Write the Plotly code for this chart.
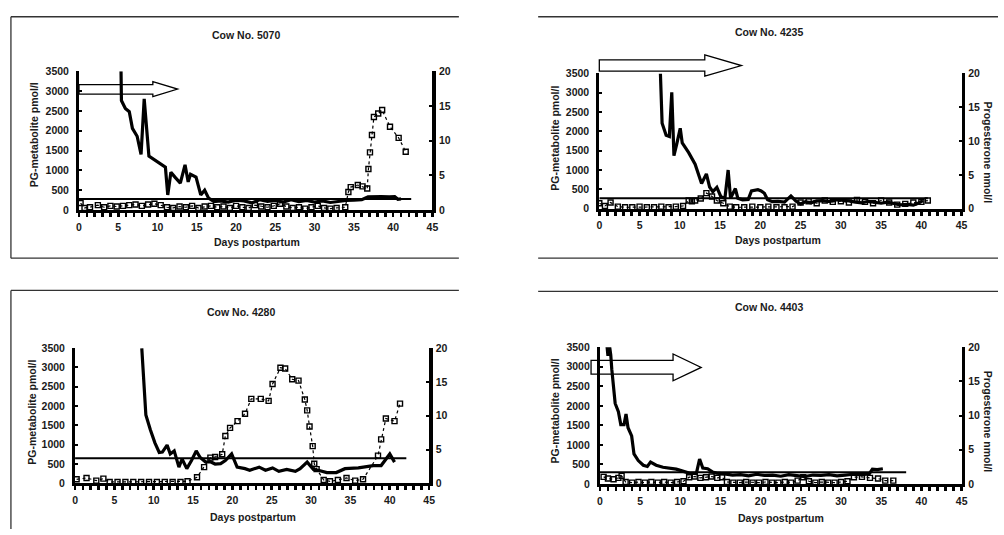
import plotly.graph_objects as go

W, H = 1004, 535

# ---------------- text ----------------
TITLES = ["Cow No. 5070", "Cow No. 4235", "Cow No. 4280", "Cow No. 4403"]
X_TITLE = "Days postpartum"
Y_LEFT_TITLE = "PG-metabolite pmol/l"
Y_RIGHT_TITLE = "Progesterone nmol/l"
X_TICKS = [0, 5, 10, 15, 20, 25, 30, 35, 40, 45]
Y_LEFT_TICKS = [0, 500, 1000, 1500, 2000, 2500, 3000, 3500]
Y_RIGHT_TICKS = [0, 5, 10, 15, 20]

# ---------------- Cow 5070 ----------------
pg1_day = [5.35, 5.4, 5.9, 6.4, 6.8, 7.4, 7.9, 8.3, 8.9, 9.5, 10.2, 11.0, 11.3, 11.7, 12.3,
           12.9, 13.5, 13.9, 14.2, 14.9, 15.5, 16.0, 16.5, 17.2, 18, 19, 20, 21, 22, 23, 24,
           25, 26, 27, 28, 29, 30, 31, 32, 33, 34, 35, 36, 36.8, 37.5, 38.5, 39.5, 40.2, 40.6, 41.0]
pg1_val = [3500, 2760, 2560, 2480, 2060, 1860, 1400, 2800, 1360, 1280, 1180, 1080, 380, 950, 810,
           680, 1140, 710, 900, 830, 380, 500, 300, 210, 230, 200, 250, 230, 180, 260, 220,
           240, 200, 260, 210, 240, 200, 230, 190, 220, 240, 250, 260, 330, 340, 340, 330, 340, 270, 280]
pr1_day = [0.2, 0.7, 1.4, 2.4, 3.2, 4.0, 4.8, 5.6, 6.4, 7.2, 8.0, 8.8, 9.6, 10.4, 11.2, 12.0,
           12.8, 13.6, 14.4, 15.2, 16.0, 16.8, 17.6, 18.4, 19.2, 20.0, 20.8, 21.6, 22.4, 23.2,
           24.0, 24.8, 25.6, 26.4, 27.2, 28.0, 28.8, 29.6, 30.4, 31.2, 32.0, 32.8, 33.9, 34.3,
           34.6, 35.5, 36.1, 36.7, 36.85, 37.05, 37.3, 37.55, 38.1, 38.6, 39.6, 40.7, 41.6]
pr1_val = [1.0, 0.3, 0.4, 0.7, 0.4, 0.6, 0.5, 0.6, 0.7, 0.8, 0.6, 0.8, 0.9, 0.7, 0.4, 0.3,
           0.5, 0.4, 0.6, 0.3, 0.5, 0.6, 0.4, 0.5, 0.3, 0.6, 0.4, 0.3, 0.7, 0.5,
           0.4, 0.6, 0.9, 0.5, 0.3, 0.4, 0.2, 0.4, 0.6, 0.3, 0.2, 0.3, 0.4, 2.6,
           3.3, 3.6, 3.4, 3.1, 5.9, 8.3, 10.8, 13.4, 13.9, 14.4, 12.0, 10.4, 8.4]

# ---------------- Cow 4235 ----------------
pg2_day = [7.59, 7.8, 8.3, 8.7, 9.0, 9.27, 9.6, 10.05, 10.3, 11.1, 11.9, 12.3, 12.7, 13.3, 13.7,
           14.1, 14.6, 15.1, 15.6, 16.0, 16.3, 16.9, 17.2, 17.8, 18.5, 18.9, 19.3, 19.7, 20.1,
           20.5, 20.9, 21.5, 22.2, 23.0, 23.8, 24.4, 25.0, 25.6, 26.3, 27.0, 27.8, 28.6, 29.4,
           30.2, 31.0, 31.8, 32.6, 33.4, 34.2, 35.0, 35.8, 36.6, 37.4, 38.2, 39.0, 39.6, 40.2]
pg2_val = [3500, 2210, 1900, 1870, 3010, 1370, 1660, 2080, 1700, 1450, 1150, 900, 650, 900, 560,
           440, 550, 310, 270, 1000, 270, 520, 270, 230, 240, 460, 480, 490, 460,
           400, 230, 180, 190, 170, 330, 200, 120, 180, 150, 200, 210, 180, 230,
           220, 200, 170, 150, 190, 160, 140, 170, 130, 100, 110, 90, 140, 210]
pr2_day = [0, 0.7, 1.4, 2.3, 3.2, 4.1, 5.0, 5.9, 6.8, 7.7, 8.6, 9.5, 10.4, 11.1, 11.5, 11.9,
           12.6, 13.3, 14.0, 14.6, 15.4, 16.2, 17.0, 18.0, 19.0, 20.0, 21.0, 22.0, 23.0, 24.0,
           25.0, 26.0, 27.0, 28.0, 29.0, 30.0, 31.0, 32.0, 33.0, 34.0, 35.0, 36.0, 37.0, 38.0,
           39.0, 40.0, 40.8]
pr2_val = [0.8, 0.4, 0.9, 0.3, 0.2, 0.2, 0.3, 0.2, 0.2, 0.3, 0.2, 0.3, 0.4, 1.2, 1.1, 1.2,
           1.5, 2.3, 1.8, 1.2, 0.8, 0.3, 0.2, 0.2, 0.3, 0.2, 0.3, 0.2, 0.2, 0.3,
           0.9, 1.1, 0.8, 1.2, 1.0, 1.1, 0.9, 1.3, 1.0, 0.8, 1.2, 0.9, 0.6, 0.7,
           0.9, 1.0, 1.2]

# ---------------- Cow 4280 ----------------
pg3_day = [8.48, 8.6, 9.0, 9.57, 10.15, 10.7, 11.1, 11.7, 12.1, 12.6, 13.2, 13.6, 14.2, 14.8,
           15.4, 15.9, 16.6, 17.2, 17.8, 18.5, 19.1, 19.9, 20.6, 21.6, 22.2, 23.4, 24.2, 25.1,
           25.9, 26.9, 28.0, 28.6, 29.5, 30.3, 30.9, 32.0, 33.2, 34.3, 36.0, 37.9, 38.9, 40.0, 40.6]
pg3_val = [3500, 3120, 1770, 1390, 1050, 800, 810, 990, 760, 840, 420, 630, 380, 590,
           840, 670, 550, 560, 500, 510, 590, 760, 420, 380, 340, 420, 340, 400,
           310, 360, 310, 380, 550, 360, 340, 280, 280, 380, 400, 460, 460, 760, 550]
pr3_day = [0.2, 1.46, 2.7, 3.6, 4.4, 5.4, 6.4, 7.4, 8.4, 9.4, 10.4, 11.4, 12.4, 13.4, 14.3,
           15.5, 16.4, 17.2, 17.8, 18.7, 19.1, 19.7, 20.65, 21.6, 22.4, 23.6, 24.6, 25.1, 26.1,
           26.7, 27.6, 28.4, 29.2, 29.5, 29.8, 30.2, 30.4, 30.7, 31.6, 32.4, 33.4, 34.5, 35.6,
           36.6, 38.5, 38.9, 39.5, 40.6, 41.3]
pr3_val = [0.6, 0.8, 0.4, 0.7, 0.2, 0.2, 0.2, 0.2, 0.2, 0.2, 0.2, 0.2, 0.2, 0.2, 0.3,
           0.9, 2.4, 3.8, 3.9, 4.3, 7.0, 8.2, 9.2, 10.3, 12.5, 12.5, 12.2, 14.7, 17.1,
           17.0, 15.4, 15.2, 12.4, 10.8, 8.4, 5.5, 2.9, 2.1, 0.5, 0.3, 0.5, 0.8, 0.4,
           0.6, 4.1, 6.5, 9.6, 9.2, 11.8]

# ---------------- Cow 4403 ----------------
pg4_day = [0.85, 1.0, 1.15, 1.35, 1.48, 1.9, 2.3, 2.6, 3.0, 3.25, 3.5, 3.95, 4.24, 4.77, 5.4,
           5.9, 6.3, 7.0, 7.85, 8.7, 9.5, 10.3, 11.1, 12.0, 12.4, 12.8, 13.4, 14.0, 14.5, 15.5,
           16.5, 17.5, 18.5, 19.5, 20.5, 21.5, 22.5, 23.5, 24.5, 25.5, 26.5, 27.5, 28.5, 29.5,
           30.5, 31.5, 32.5, 33.5, 33.9, 34.5, 35.2]
pg4_val = [3600, 3280, 3600, 3300, 2930, 2060, 1850, 1520, 1520, 1790, 1440, 1230, 770, 600, 480,
           450, 560, 480, 430, 410, 380, 330, 280, 270, 640, 410, 390, 310, 280, 260,
           230, 240, 210, 250, 220, 230, 200, 240, 210, 190, 230, 220, 240, 210,
           230, 250, 240, 260, 380, 370, 390]
pr4_day = [0.46, 1.0, 1.7, 2.3, 2.7, 3.2, 4.0, 4.8, 5.6, 6.4, 7.2, 8.0, 8.8, 9.6, 10.4, 11.1,
           11.8, 12.5, 13.2, 13.9, 14.6, 15.2, 15.8, 16.6, 17.4, 18.2, 19.0, 19.8, 20.6, 21.4,
           22.2, 23.0, 23.8, 24.6, 25.3, 26.0, 26.8, 27.6, 28.4, 29.2, 30.0, 30.8, 31.6, 32.6,
           33.6, 34.6, 35.5, 36.5]
pr4_val = [1.05, 0.8, 0.7, 0.9, 1.2, 0.3, 0.2, 0.3, 0.2, 0.3, 0.2, 0.3, 0.2, 0.3, 0.4, 1.0,
           1.1, 0.9, 1.0, 1.1, 0.9, 1.0, 0.3, 0.2, 0.2, 0.3, 0.2, 0.2, 0.3, 0.2,
           0.2, 0.3, 0.2, 0.5, 1.0, 0.4, 0.2, 0.3, 0.2, 0.2, 0.3, 0.4, 1.0, 1.05,
           0.9, 0.8, 0.5, 0.5]

# baseline (threshold) of PG-metabolite per cow and the day where it ends
THRESHOLD_LEVEL = [280, 270, 650, 300]
THRESHOLD_END = [42.3, 40.8, 42.1, 38.1]

# treatment period arrows (days): start, head start, tip ; None = no arrow
ARROW_DAYS = [[0, 9.4, 12.55], [0, 13.1, 17.65], None, [-1.1, 9.1, 12.6]]

PG_DAYS = [pg1_day, pg2_day, pg3_day, pg4_day]
PG_VALS = [pg1_val, pg2_val, pg3_val, pg4_val]
PR_DAYS = [pr1_day, pr2_day, pr3_day, pr4_day]
PR_VALS = [pr1_val, pr2_val, pr3_val, pr4_val]
for a, b in zip(PG_DAYS + PR_DAYS, PG_VALS + PR_VALS):
    assert len(a) == len(b)

# day ticks (every day; labelled every 5 days)
DAY_TICKS = list(range(0, 46))
DAY_TICK_TEXT = [str(d) if d in X_TICKS else "" for d in DAY_TICKS]

# ---------------- layout geometry (pixels) ----------------
PANELS = [
    dict(x0=76.7, x1=433.3, yt=66.7, yb=208.7, title=(244.7, 29.3), xt=(256, 241.3),
         ylt=(31.5, 132), yrt=None),
    dict(x0=601.7, x1=967.3, yt=69, yb=207.3, title=(772.5, 26.7), xt=(781.7, 239.3),
         ylt=(556.7, 135), yrt=(994, 150)),
    dict(x0=72.7, x1=430, yt=350, yb=488.3, title=(240.5, 313.3), xt=(252, 522.3),
         ylt=(29.2, 415), yrt=None),
    dict(x0=602.3, x1=967.3, yt=349, yb=489, title=(772.8, 308.3), xt=(785.5, 523.3),
         ylt=(556.7, 414), yrt=(993.3, 425.7)),
]
# arrow vertical placement in PG units: (shaft low, shaft high, head low, head high)
ARROW_Y = [(2920, 3160, 2860, 3240), (3560, 3850, 3430, 3980), None, (2810, 3160, 2640, 3325)]

def px(x):
    return x / W

def py(y):
    return 1 - y / H

FONT = "Liberation Sans, Arial, sans-serif"
INK = "#1a1a1a"
tickfont = dict(family=FONT, size=10.5, color=INK, weight="bold")

fig = go.Figure()
layout = dict(
    width=W, height=H, margin=dict(l=0, r=0, t=0, b=0),
    paper_bgcolor="white", plot_bgcolor="rgba(0,0,0,0)",
    showlegend=False, annotations=[], shapes=[],
)

EXT = 25  # px of extra room for the invisible arrow axes

for i, p in enumerate(PANELS):
    n = i + 1
    xa, ya, ya2 = f"x{n}", f"y{n}", f"y{n + 4}"
    xe, ye = f"x{n + 4}", f"y{n + 8}"
    xdom = [px(p["x0"]), px(p["x1"])]
    ydom = [py(p["yb"]), py(p["yt"])]

    layout[f"xaxis{n}"] = dict(
        domain=xdom, range=[0, 45], anchor=ya, tickmode="array", tickvals=DAY_TICKS,
        ticktext=DAY_TICK_TEXT,
        ticks="outside", ticklen=4, tickwidth=2.6, tickcolor="black",
        showline=True, linewidth=3, linecolor="black", showgrid=False, zeroline=False,
        tickfont=tickfont, ticklabelstandoff=1,
    )
    layout[f"yaxis{n}"] = dict(
        domain=ydom, range=[0, 3500], anchor=xa, tickvals=Y_LEFT_TICKS,
        ticks="inside", ticklen=3, tickwidth=2, tickcolor="black",
        showline=True, linewidth=3, linecolor="black", showgrid=False, zeroline=False,
        tickfont=tickfont, ticklabelstandoff=5,
    )
    layout[f"yaxis{n + 4}"] = dict(
        overlaying=ya, side="right", range=[0, 20], anchor=xa, tickvals=Y_RIGHT_TICKS,
        ticks="inside", ticklen=3, tickwidth=2, tickcolor="black",
        showline=True, linewidth=3.5, linecolor="black", showgrid=False, zeroline=False,
        tickfont=tickfont, ticklabelstandoff=1,
    )
    # invisible, slightly larger axes used only so the arrows are not clipped
    ex = EXT / W
    ey = EXT / H
    wx = xdom[1] - xdom[0]
    wy = ydom[1] - ydom[0]
    layout[f"xaxis{n + 4}"] = dict(
        domain=[xdom[0] - ex, xdom[1] + ex], range=[-45 * ex / wx, 45 + 45 * ex / wx],
        anchor=ye, visible=False, showgrid=False, zeroline=False,
    )
    layout[f"yaxis{n + 8}"] = dict(
        domain=[ydom[0] - ey, ydom[1] + ey], range=[-3500 * ey / wy, 3500 + 3500 * ey / wy],
        anchor=xe, visible=False, showgrid=False, zeroline=False,
    )
    fig.add_trace(go.Scatter(x=[None], y=[None], xaxis=xe, yaxis=ye, hoverinfo="skip",
                             mode="markers"))

    # threshold line
    fig.add_trace(go.Scatter(
        x=[0, THRESHOLD_END[i]], y=[THRESHOLD_LEVEL[i], THRESHOLD_LEVEL[i]],
        xaxis=xa, yaxis=ya, mode="lines", line=dict(color="black", width=2),
        hoverinfo="skip"))
    # progesterone
    fig.add_trace(go.Scatter(
        x=PR_DAYS[i], y=PR_VALS[i], xaxis=xa, yaxis=ya2, mode="lines+markers",
        line=dict(color="black", width=1.2, dash="dot"),
        marker=dict(symbol="square-open", size=5, color="black", line=dict(width=1.4)),
        cliponaxis=False, hoverinfo="skip"))
    # PG-metabolite
    fig.add_trace(go.Scatter(
        x=PG_DAYS[i], y=PG_VALS[i], xaxis=xa, yaxis=ya, mode="lines",
        line=dict(color="black", width=3.2), hoverinfo="skip"))

    # arrow
    if ARROW_DAYS[i] is not None:
        s, h, t = ARROW_DAYS[i]
        sl, sh, hl, hh = ARROW_Y[i]
        mid = (hl + hh) / 2
        path = (f"M {s},{sl} L {h},{sl} L {h},{hl} L {t},{mid} L {h},{hh} "
                f"L {h},{sh} L {s},{sh} Z")
        layout["shapes"].append(dict(
            type="path", path=path, xref=xe, yref=ye, layer="above",
            line=dict(color="black", width=1.3), fillcolor="rgba(0,0,0,0)"))

    tf = dict(family=FONT, size=10.5, color=INK, weight="bold")
    layout["annotations"].append(dict(
        text=TITLES[i], x=px(p["title"][0]), y=py(p["title"][1]), xref="paper", yref="paper",
        xanchor="center", yanchor="middle", showarrow=False, font=tf))
    layout["annotations"].append(dict(
        text=X_TITLE, x=px(p["xt"][0]), y=py(p["xt"][1]), xref="paper", yref="paper",
        xanchor="center", yanchor="middle", showarrow=False, font=tf))
    layout["annotations"].append(dict(
        text=Y_LEFT_TITLE, x=px(p["ylt"][0]), y=py(p["ylt"][1]), xref="paper", yref="paper",
        xanchor="center", yanchor="middle", showarrow=False, font=tf, textangle=-90))
    if p["yrt"] is not None:
        layout["annotations"].append(dict(
            text=Y_RIGHT_TITLE, x=px(p["yrt"][0]), y=py(p["yrt"][1]), xref="paper",
            yref="paper", xanchor="center", yanchor="middle", showarrow=False, font=tf,
            textangle=90))

# panel frames (scanned figure crops)
BORDER = dict(color="#333333", width=1.3)
FRAME_SEGMENTS = [
    (8, 11, 460, 11), (8, 11, 8, 258), (8, 258, 460, 258),
    (540, 11, 1004, 11), (540, 258, 1004, 258),
    (8, 291, 460, 291), (8, 291, 8, 535),
    (540, 292, 1004, 292),
]
for x0, y0, x1, y1 in FRAME_SEGMENTS:
    layout["shapes"].append(dict(type="line", xref="paper", yref="paper",
                                 x0=px(x0), y0=py(y0), x1=px(x1), y1=py(y1), line=BORDER))

fig.update_layout(**layout)
fig.write_html(
    "out.html",
    config={"displayModeBar": False, "staticPlot": True},
    post_script=(
        "document.documentElement.style.margin='0';"
        "document.documentElement.style.padding='0';"
        "document.documentElement.style.overflow='hidden';"
        "document.body.style.margin='0';"
        "document.body.style.padding='0';"
        "document.body.style.overflow='hidden';"
    ),
)
